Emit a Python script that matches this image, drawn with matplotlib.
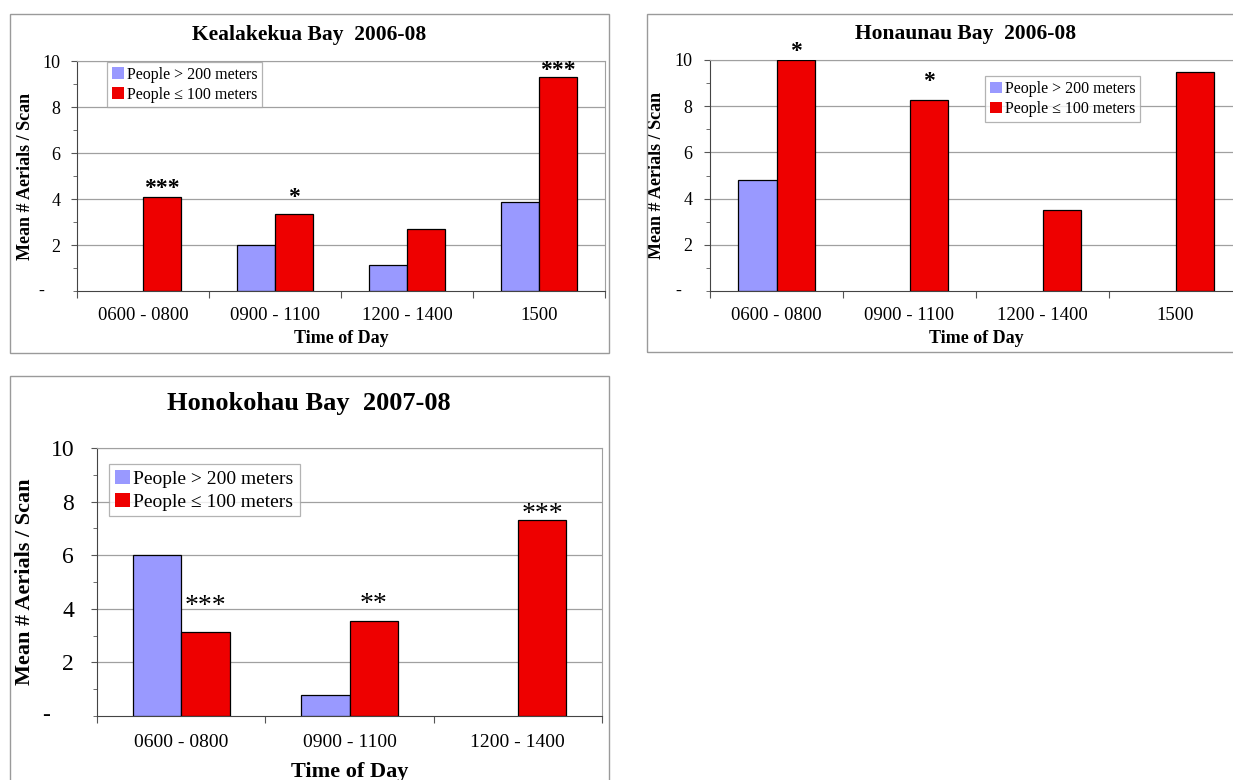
import numpy as np
import matplotlib
matplotlib.use("Agg")
import matplotlib.pyplot as plt
from matplotlib.patches import Rectangle
from matplotlib.ticker import MultipleLocator
import matplotlib.transforms as mtransforms

plt.rcParams['font.family'] = ['Liberation Serif', 'DejaVu Serif']

W, H = 1233, 780

# data
kea_times = ["0600 - 0800", "0900 - 1100", "1200 - 1400", "1500"]
kea_far = [0, 2.0, 1.15, 3.85]
kea_near = [4.1, 3.35, 2.7, 9.3]
kea_stars = ["***", "*", "", "***"]

hon_times = ["0600 - 0800", "0900 - 1100", "1200 - 1400", "1500"]
hon_far = [4.8, 0, 0, 0]
hon_near = [10.0, 8.25, 3.5, 9.5]
hon_stars = ["*", "*", "", ""]

hok_times = ["0600 - 0800", "0900 - 1100", "1200 - 1400"]
hok_far = [6.0, 0.8, 0]
hok_near = [3.15, 3.55, 7.3]
hok_stars = ["***", "**", "***"]

far_label = "People > 200 meters"
near_label = "People \u2264 100 meters"
far_color = "#9999FF"
near_color = "#EE0000"

fig = plt.figure(figsize=(W / 100, H / 100), dpi=100)
fig.patch.set_facecolor("white")


def px_axes(l, t, r, b):
    return fig.add_axes([l / W, 1 - b / H, (r - l) / W, (b - t) / H])


def frame(l, t, r, b):
    fig.patches.append(Rectangle((l / W, 1 - b / H), (r - l) / W, (b - t) / H,
                                 transform=fig.transFigure, fill=False,
                                 edgecolor="#9a9a9a", lw=1.0))


def panel(box, times, far, near, stars, title, tpos, sizes, pads, legpos, starpad):
    tick_fs, ytick_fs, lab_fs, leg_fs, title_fs, star_fs, star_w = sizes
    ypad, xpad, zero_x = pads
    ax = px_axes(*box)
    x = np.arange(len(times))
    w = 0.288
    # zero-height bars are left out so they don't draw a line on the axis
    fx = [xi - w / 2 for xi, v in zip(x, far) if v > 0]
    fv = [v for v in far if v > 0]
    ax.bar(fx, fv, w, color=far_color, edgecolor="black", lw=0.9,
           label=far_label, zorder=3)
    ax.bar(x + w / 2, near, w, color=near_color, edgecolor="black", lw=0.9,
           label=near_label, zorder=3)
    for i, s in enumerate(stars):
        if s:
            ax.annotate(s, (x[i] + w / 2, near[i]), xytext=(0, starpad[i]),
                        textcoords="offset points", ha="center", va="bottom",
                        fontsize=star_fs, fontweight=star_w, annotation_clip=False)
    ax.set_xlim(-0.5, len(times) - 0.5)
    ax.set_ylim(0, 10)
    ax.yaxis.set_minor_locator(MultipleLocator(1))
    ax.set_yticks([2, 4, 6, 8, 10])
    ax.set_yticklabels(["2", "4", "6", "8", "10"], fontsize=ytick_fs)
    ax.grid(axis="y", color="#a0a0a0", lw=0.9, zorder=0)
    ax.set_axisbelow(True)
    # Excel style "-" for zero
    trans = mtransforms.blended_transform_factory(ax.transAxes, ax.transData)
    ax.text(zero_x, 0, "-", transform=trans, ha="center", va="center",
            fontsize=ytick_fs)
    ax.tick_params(axis="y", which="both", direction="out", length=4,
                   color="#555555", pad=ypad)
    ax.tick_params(axis="y", which="minor", length=3)
    # category boundary ticks
    ax.set_xticks(np.arange(-0.5, len(times)), minor=False)
    ax.set_xticklabels([])
    ax.set_xticks(x, minor=True)
    ax.set_xticklabels(times, minor=True, fontsize=tick_fs)
    ax.tick_params(axis="x", which="major", direction="out", length=5,
                   color="#555555")
    ax.tick_params(axis="x", which="minor", length=0, pad=xpad)
    for side in ["top", "right"]:
        ax.spines[side].set_color("#a0a0a0")
    for side in ["left", "bottom"]:
        ax.spines[side].set_color("#444444")
    ax.set_xlabel("Time of Day", fontsize=lab_fs, fontweight="bold")
    ax.set_ylabel("Mean # Aerials / Scan", fontsize=lab_fs, fontweight="bold")
    fig.text(tpos[0] / W, 1 - tpos[1] / H, title, ha="center", va="center",
             fontsize=title_fs, fontweight="bold")
    leg = ax.legend(loc="upper left", bbox_to_anchor=legpos, fontsize=leg_fs,
                    frameon=True, fancybox=False, handlelength=0.75,
                    handleheight=0.75, handletextpad=0.2, borderpad=0.3,
                    labelspacing=0.25, borderaxespad=0)
    leg.get_frame().set_edgecolor("#a0a0a0")
    leg.get_frame().set_linewidth(0.9)
    for h in leg.legend_handles:
        h.set_edgecolor("none")
    return ax


frame(10, 14, 609, 353)
frame(647, 14, 1320, 352)
frame(10, 376, 609, 800)

ax1 = panel((77, 61, 605, 291), kea_times, kea_far, kea_near, kea_stars,
            "Kealakekua Bay  2006-08", (309, 35),
            (13.5, 13, 13, 11.5, 15.5, 17, "bold"), (7.8, 11.5, -0.068),
            (0.057, 0.996), [-2, 4.5, 0, -3])
ax1.yaxis.set_label_coords(-0.082, 0.5)
ax1.xaxis.set_label_coords(0.5, -0.17)

ax2 = panel((710, 60, 1242, 291), hon_times, hon_far, hon_near, hon_stars,
            "Honaunau Bay  2006-08", (966, 34),
            (13.5, 13, 13, 11.5, 15.5, 17, "bold"), (8.6, 11.5, -0.06),
            (0.517, 0.93), [-1.5, 6, 0, 0])
ax2.yaxis.set_label_coords(-0.085, 0.5)
ax2.xaxis.set_label_coords(0.5, -0.17)

ax3 = panel((97, 448, 602, 716), hok_times, hok_far, hok_near, hok_stars,
            "Honokohau Bay  2007-08", (309, 403),
            (14, 17, 16, 14, 19, 20, "normal"), (12.5, 13, -0.1),
            (0.024, 0.94), [9, 3, -5])
ax3.yaxis.set_label_coords(-0.122, 0.5)
ax3.xaxis.set_label_coords(0.5, -0.17)

fig.savefig("out.png", dpi=100)
